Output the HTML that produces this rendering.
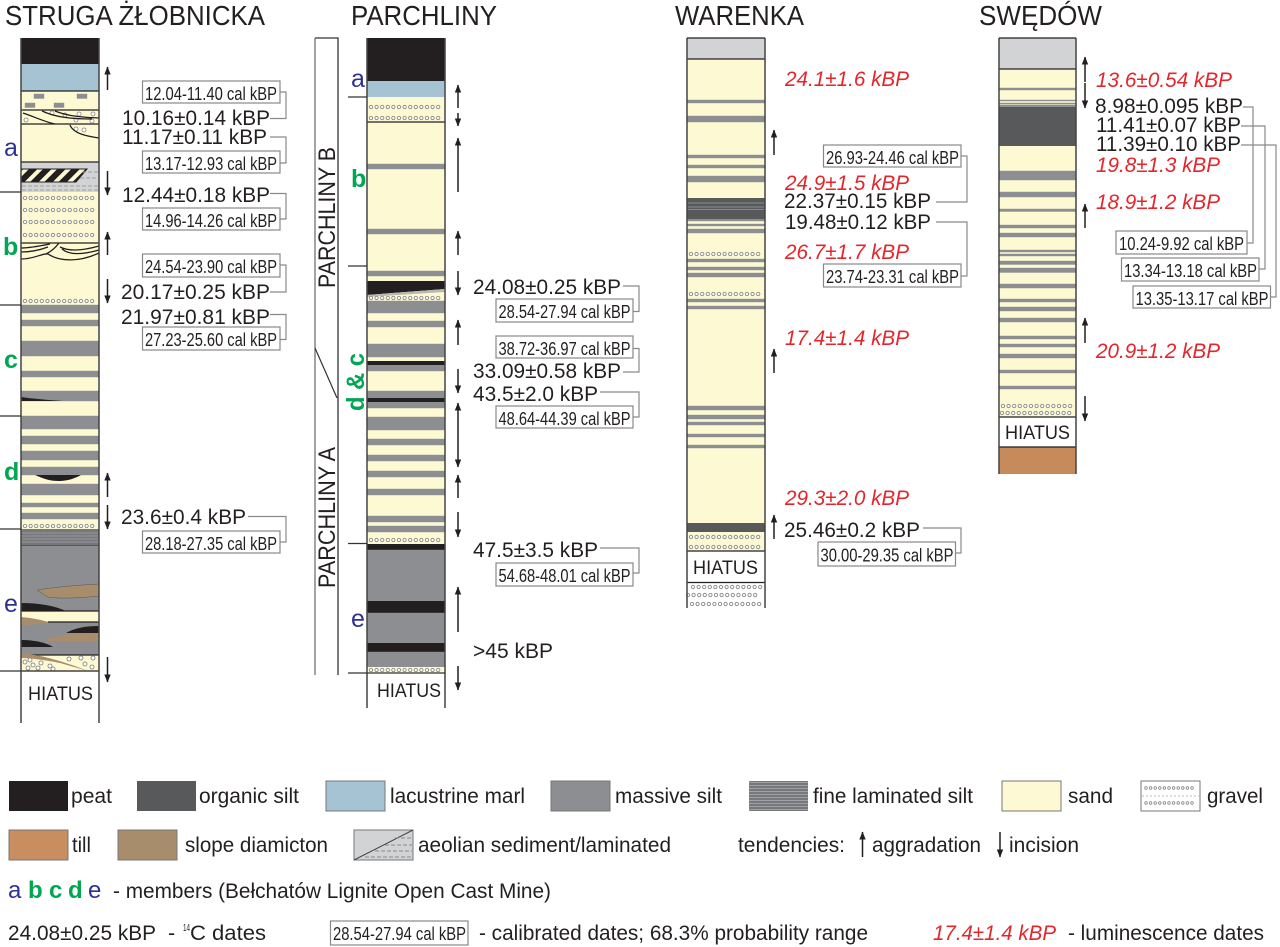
<!DOCTYPE html>
<html lang="en"><head><meta charset="utf-8"><title>Lithostratigraphic profiles</title>
<style>
html,body{margin:0;padding:0;background:#fff}
svg{display:block}
text{font-family:"Liberation Sans",sans-serif;fill:#231f20}
.n{font-size:21.5px}.c{font-size:18.5px}.t{font-size:28px}.l{font-size:21.5px}.h{font-size:19px}
.r{font-size:21.5px;font-style:italic;fill:#e3262c}
.mb{font-size:25px;fill:#2e3192}.mg{font-size:25px;fill:#00a651;font-weight:bold}
.s{fill:#fdfad3}.m{fill:#8d8e92;stroke:#8d8e92;stroke-width:.4}.p{fill:#231f20}.o{fill:#58595b}.d{fill:#a88d6d}
.bx{fill:#fff;stroke:#888;stroke-width:1.2}
.cn{fill:none;stroke:#8a8a8a;stroke-width:1.2}
.ar{stroke:#231f20;stroke-width:1.5;marker-end:url(#ah)}
.tk{stroke:#333;stroke-width:1.2}
.cl{stroke:#444;stroke-width:1.5}
.g1{stroke:#8a8a8a;stroke-width:4.2;stroke-linecap:round;stroke-dasharray:0 5.6}
.g2{stroke:#fff;stroke-width:2.4;stroke-linecap:round;stroke-dasharray:0 5.6}
.bl{stroke:#231f20;stroke-width:1.3;fill:none}
.lg{stroke:#777;stroke-width:1}
</style></head>
<body>
<svg xmlns="http://www.w3.org/2000/svg" width="1280" height="947" viewBox="0 0 1280 947">
<defs>
<marker id="ah" markerUnits="userSpaceOnUse" markerWidth="8" markerHeight="8" refX="7.5" refY="3.2" orient="auto"><path d="M0 0L8 3.2L0 6.4Z" fill="#231f20"/></marker>
<g id="gv"><line x1="0" x2="70" class="g1"/><line x1="0" x2="70" class="g2"/></g>
<g id="gs"><line x1="0" x2="50" class="g1" style="stroke-width:3.4;stroke-dasharray:0 4.6"/><line x1="0" x2="50" class="g2" style="stroke-width:1.8;stroke-dasharray:0 4.6"/></g>
<pattern id="ht" patternUnits="userSpaceOnUse" width="10" height="10" patternTransform="rotate(45)"><rect width="10" height="10" fill="#fdfad3"/><rect width="6" height="10" fill="#231f20"/></pattern>
<pattern id="lm" patternUnits="userSpaceOnUse" width="4" height="3"><rect width="4" height="3" fill="#77787b"/><rect y="2" width="4" height="1" fill="#a0a1a4"/></pattern>
</defs>

<!-- Titles -->
<text class="t" x="5" y="25" textLength="260" lengthAdjust="spacingAndGlyphs">STRUGA ŻŁOBNICKA</text>
<text class="t" x="351" y="25" textLength="146" lengthAdjust="spacingAndGlyphs">PARCHLINY</text>
<text class="t" x="675" y="25" textLength="129" lengthAdjust="spacingAndGlyphs">WARENKA</text>
<text class="t" x="979" y="25" textLength="123" lengthAdjust="spacingAndGlyphs">SWĘDÓW</text>

<!-- COLUMN 1 -->
<g>
<rect x="21" y="38" width="78" height="26" class="p"/>
<rect x="21" y="64" width="78" height="27" fill="#a5c3d3"/>
<rect x="21" y="91" width="78" height="71" class="s"/>
<g class="m"><rect x="34" y="94" width="10" height="4.5"/><rect x="77" y="94" width="10" height="4.5"/><rect x="25" y="103" width="10" height="4.5"/><rect x="54" y="103" width="10" height="4.5"/></g>
<line x1="21" x2="99" y1="91" y2="91" class="bl"/>
<line x1="21" x2="99" y1="110" y2="110" class="bl"/>
<line x1="21" x2="99" y1="124" y2="124" class="bl"/>
<g fill="#fff" stroke="#888" stroke-width=".8"><circle cx="52" cy="113" r="2"/><circle cx="65" cy="115" r="2"/><circle cx="79" cy="114" r="2"/><circle cx="93" cy="114" r="2"/><circle cx="26" cy="120" r="2"/><circle cx="76" cy="120" r="2"/><circle cx="92" cy="121" r="2"/><circle cx="76" cy="129" r="2"/><circle cx="84" cy="130" r="2"/></g>
<path d="M23 113C35 117 45 122 55 124M42 111C55 117 70 119 92 119M55 111C65 115 75 117 99 118" class="bl"/>
<path d="M70 125C73 133 85 136 99 138" class="bl" stroke-width="1.6"/>
<rect x="21" y="162" width="78" height="30" fill="#d1d3d4"/>
<line x1="21" x2="99" y1="162" y2="162" class="bl"/>
<path d="M21 169H87L76 182H21Z" fill="url(#ht)" stroke="#231f20"/>
<path d="M82 172H98M80 178H98M22 186H98M22 190H98" stroke="#a0a0a0" stroke-dasharray="4 2" fill="none"/>
<rect x="21" y="192" width="78" height="113" class="s"/>
<use href="#gv" x="25" y="198"/><use href="#gv" x="25" y="210"/><use href="#gv" x="25" y="222"/><use href="#gv" x="25" y="235"/>
<line x1="21" x2="99" y1="243" y2="243" class="bl"/>
<path d="M21 248C30 248 40 246 50 244M21 252C32 252 40 250 48 247M60 247C70 252 85 250 99 246M62 249C70 256 85 254 99 250" class="bl" stroke-width="1"/>
<path d="M21 259C35 259 42 253 48 254C60 262 80 262 99 253M46 254C52 251 56 247 59 243" class="bl" stroke-width="1.8"/>
<use href="#gv" x="25" y="301"/>
<rect x="21" y="305" width="78" height="111" class="s"/>
<g class="m"><rect x="21" y="305" width="78" height="8"/><rect x="21" y="320" width="78" height="6"/><rect x="21" y="341" width="78" height="15"/><rect x="21" y="371" width="78" height="6"/><rect x="21" y="391" width="78" height="10"/></g>
<path d="M21 397C35 399 50 400 63 401H21Z" class="p"/>
<rect x="21" y="416" width="78" height="113" class="s"/>
<g class="m"><rect x="21" y="416" width="78" height="13"/><rect x="21" y="436" width="78" height="8"/><rect x="21" y="451" width="78" height="9"/><rect x="21" y="467" width="78" height="8"/><rect x="21" y="484" width="78" height="11"/><rect x="21" y="503" width="78" height="4"/><rect x="21" y="513" width="78" height="6"/></g>
<path d="M35 475H81C72 480 65 481 58 481C50 481 44 479 35 475Z" class="p"/>
<use href="#gv" x="25" y="526"/>
<rect x="21" y="529" width="78" height="17" fill="#77787b"/>
<path d="M21 533H99M21 536H99M21 539H99M21 542H99" stroke="#a0a1a4" stroke-width=".8" fill="none"/>
<line x1="21" x2="99" y1="546" y2="546" class="bl"/>
<rect x="21" y="546" width="78" height="65" class="m"/>
<path d="M37 590C55 587 80 585 99 584V596C80 598 60 599 48 597Z" class="d" stroke="#555" stroke-width=".5"/>
<path d="M21 603C40 603 55 606 66 611H21Z" class="p"/>
<rect x="21" y="611" width="78" height="11" class="s"/>
<line x1="21" x2="99" y1="611" y2="611" class="bl" stroke-width=".8"/>
<rect x="21" y="622" width="78" height="33" class="m"/>
<line x1="48" x2="99" y1="622" y2="622" class="bl"/>
<path d="M21 617C32 618 42 620 48 622C42 624 30 625 21 625Z" class="d"/>
<path d="M66 633C75 628 85 626 99 626V633Z" class="p"/>
<path d="M45 640C55 635 75 633 99 633V641H50Z" class="d"/>
<path d="M21 640C35 640 47 643 53 647H21Z" class="p"/>
<rect x="21" y="655" width="78" height="16" class="s"/>
<line x1="21" x2="99" y1="655" y2="655" class="bl" stroke-width=".8"/>
<g fill="#fff" stroke="#777" stroke-width=".8"><circle cx="25" cy="662" r="2"/><circle cx="30" cy="660" r="2"/><circle cx="33" cy="665" r="2"/><circle cx="41" cy="663" r="2"/><circle cx="28" cy="668" r="2"/><circle cx="38" cy="668" r="2"/><circle cx="50" cy="666" r="2"/><circle cx="53" cy="669" r="2"/><circle cx="69" cy="659" r="2"/><circle cx="81" cy="658" r="2"/><circle cx="93" cy="658" r="2"/><circle cx="85" cy="664" r="2"/><circle cx="92" cy="667" r="2"/></g>
<path d="M21 653C40 655 60 660 88 671L60 663C45 660 30 658 21 658Z" class="d"/>
<line x1="21" x2="99" y1="671" y2="671" class="bl"/>
<line x1="21" x2="21" y1="38" y2="723" class="cl"/><line x1="99" x2="99" y1="38" y2="723" class="cl"/>
<line x1="0" x2="21" y1="192" y2="192" class="tk"/><line x1="0" x2="21" y1="305" y2="305" class="tk"/><line x1="0" x2="21" y1="416" y2="416" class="tk"/><line x1="0" x2="21" y1="529" y2="529" class="tk"/><line x1="0" x2="21" y1="671" y2="671" class="tk"/>
<text class="h" x="28" y="700" textLength="65" lengthAdjust="spacingAndGlyphs">HIATUS</text>
<line x1="107.500" x2="107.500" y1="90" y2="67" class="ar"/>
<line x1="107.500" x2="107.500" y1="171" y2="195" class="ar"/>
<line x1="107.500" x2="107.500" y1="255" y2="232" class="ar"/>
<line x1="107.500" x2="107.500" y1="279" y2="303" class="ar"/>
<line x1="107.500" x2="107.500" y1="497" y2="473" class="ar"/>
<line x1="107.500" x2="107.500" y1="505" y2="529" class="ar"/>
<line x1="107.500" x2="107.500" y1="657" y2="682" class="ar"/>
<text class="mb" x="4" y="156">a</text><text class="mg" x="3" y="255">b</text><text class="mg" x="4" y="368">c</text><text class="mg" x="4" y="480">d</text><text class="mb" x="4" y="612">e</text>
<!-- dates 1 -->
<path class="cn" d="M280 92H286V118.500H270"/><path class="cn" d="M270 137H286V163H280"/><path class="cn" d="M270 193.500H286V219H280"/><path class="cn" d="M280 265H286V292H270"/><path class="cn" d="M270 314.500H286V339.500H280"/><path class="cn" d="M248 516.500H286V542H280"/>
<rect class="bx" x="142.500" y="81" width="137.500" height="22"/><text class="c" x="145" y="100" textLength="132" lengthAdjust="spacingAndGlyphs">12.04-11.40 cal kBP</text>
<rect class="bx" x="142.500" y="151" width="137.500" height="22"/><text class="c" x="145" y="170" textLength="132" lengthAdjust="spacingAndGlyphs">13.17-12.93 cal kBP</text>
<rect class="bx" x="142.500" y="208" width="137.500" height="22"/><text class="c" x="145" y="227" textLength="132" lengthAdjust="spacingAndGlyphs">14.96-14.26 cal kBP</text>
<rect class="bx" x="142.500" y="254" width="137.500" height="23"/><text class="c" x="145" y="273" textLength="132" lengthAdjust="spacingAndGlyphs">24.54-23.90 cal kBP</text>
<rect class="bx" x="142.500" y="327" width="137.500" height="23"/><text class="c" x="145" y="346" textLength="132" lengthAdjust="spacingAndGlyphs">27.23-25.60 cal kBP</text>
<rect class="bx" x="142.500" y="531" width="137.500" height="22"/><text class="c" x="145" y="550" textLength="132" lengthAdjust="spacingAndGlyphs">28.18-27.35 cal kBP</text>
<text class="n" x="122" y="125" textLength="148" lengthAdjust="spacingAndGlyphs">10.16±0.14 kBP</text>
<text class="n" x="122" y="144" textLength="145" lengthAdjust="spacingAndGlyphs">11.17±0.11 kBP</text>
<text class="n" x="122" y="202" textLength="148" lengthAdjust="spacingAndGlyphs">12.44±0.18 kBP</text>
<text class="n" x="121" y="299" textLength="149" lengthAdjust="spacingAndGlyphs">20.17±0.25 kBP</text>
<text class="n" x="121" y="324" textLength="149" lengthAdjust="spacingAndGlyphs">21.97±0.81 kBP</text>
<text class="n" x="121" y="524" textLength="125" lengthAdjust="spacingAndGlyphs">23.6±0.4 kBP</text>
</g>

<!-- COLUMN 2 -->
<g>
<rect x="315" y="38" width="23" height="637" fill="#fff"/>
<path d="M315 38H338V675" fill="none" stroke="#333" stroke-width="1.3"/><line x1="315" x2="315" y1="38" y2="675" stroke="#666" stroke-width="1.2"/>
<line x1="315" y1="348" x2="337" y2="398" stroke="#333" stroke-width="1.2"/>
<text x="0" y="0" transform="translate(335,288) rotate(-90)" style="font-size:24px" textLength="141" lengthAdjust="spacingAndGlyphs">PARCHLINY  B</text>
<text x="0" y="0" transform="translate(335,588) rotate(-90)" style="font-size:24px" textLength="141" lengthAdjust="spacingAndGlyphs">PARCHLINY  A</text>
<rect x="367" y="38" width="78" height="43" class="p"/>
<rect x="367" y="81" width="78" height="16" fill="#a5c3d3"/>
<rect x="367" y="97" width="78" height="447" class="s"/>
<use href="#gv" x="371" y="107"/><use href="#gv" x="371" y="118"/>
<line x1="367" x2="445" y1="122" y2="122" class="bl"/>
<g class="m">
<rect x="367" y="164" width="78" height="5"/><rect x="367" y="229" width="78" height="5"/><rect x="367" y="271" width="78" height="5"/>
<rect x="367" y="301" width="78" height="12"/><rect x="367" y="321" width="78" height="6"/><rect x="367" y="344" width="78" height="13"/>
<rect x="367" y="365" width="78" height="6"/><rect x="367" y="391" width="78" height="7"/><rect x="367" y="402" width="78" height="6"/>
<rect x="367" y="417" width="78" height="13"/><rect x="367" y="439" width="78" height="6"/><rect x="367" y="455" width="78" height="6"/>
<rect x="367" y="471" width="78" height="6"/><rect x="367" y="489" width="78" height="6"/><rect x="367" y="516" width="78" height="6"/><rect x="367" y="526" width="78" height="6"/>
</g>
<path d="M367 281H445V289L367 295Z" class="p"/>
<path d="M367 295L445 289V292L367 297Z" fill="#b9b9b0"/>
<use href="#gv" x="371" y="298"/>
<rect x="367" y="361" width="78" height="4" class="p"/><rect x="367" y="398" width="78" height="4" class="p"/>
<use href="#gv" x="371" y="540"/>
<rect x="367" y="544" width="78" height="6" class="p"/>
<rect x="367" y="550" width="78" height="51" class="m"/>
<rect x="367" y="601" width="78" height="12" class="p"/>
<rect x="367" y="613" width="78" height="30" class="m"/>
<rect x="367" y="643" width="78" height="9" class="p"/>
<rect x="367" y="652" width="78" height="15" class="m"/>
<rect x="367" y="667" width="78" height="6" class="s"/>
<use href="#gv" x="371" y="670"/>
<line x1="367" x2="367" y1="38" y2="708" class="cl"/><line x1="445" x2="445" y1="38" y2="708" class="cl"/>
<line x1="348" x2="367" y1="97" y2="97" class="tk"/><line x1="348" x2="367" y1="266" y2="266" class="tk"/><line x1="348" x2="367" y1="543.500" y2="543.500" class="tk"/><line x1="348" x2="445" y1="673" y2="673" class="tk"/>
<text class="h" x="377" y="697" textLength="64" lengthAdjust="spacingAndGlyphs">HIATUS</text>
<line x1="458" x2="458" y1="108" y2="85" class="ar"/>
<line x1="458" x2="458" y1="113" y2="126" class="ar"/>
<line x1="458" x2="458" y1="192" y2="138" class="ar"/>
<line x1="458" x2="458" y1="255" y2="231" class="ar"/>
<line x1="458" x2="458" y1="271" y2="295" class="ar"/>
<line x1="458" x2="458" y1="345" y2="320" class="ar"/>
<line x1="458" x2="458" y1="369" y2="393" class="ar"/>
<line x1="458" x2="458" y1="455" y2="403" class="ar"/>
<line x1="458" x2="458" y1="455" y2="467" class="ar"/>
<line x1="458" x2="458" y1="498" y2="475" class="ar"/>
<line x1="458" x2="458" y1="512" y2="537" class="ar"/>
<line x1="458" x2="458" y1="632" y2="587" class="ar"/>
<line x1="458" x2="458" y1="666" y2="690" class="ar"/>
<text class="mb" x="351" y="87">a</text><text class="mg" x="351" y="187">b</text><text class="mb" x="351" y="627">e</text>
<text class="mg" x="0" y="0" transform="translate(364,411) rotate(-90)" textLength="58" lengthAdjust="spacingAndGlyphs">d &amp; c</text>
<path class="cn" d="M623 286H639V311.500H633"/><path class="cn" d="M633 348.500H639V372H623"/><path class="cn" d="M600 392H639V417H633"/><path class="cn" d="M600 548H639V573H633"/>
<rect class="bx" x="496" y="299" width="137" height="23"/><text class="c" x="498.500" y="318" textLength="132" lengthAdjust="spacingAndGlyphs">28.54-27.94 cal kBP</text>
<rect class="bx" x="496" y="336" width="137" height="22"/><text class="c" x="498.500" y="355" textLength="132" lengthAdjust="spacingAndGlyphs">38.72-36.97 cal kBP</text>
<rect class="bx" x="496" y="406" width="137" height="22"/><text class="c" x="498.500" y="425" textLength="132" lengthAdjust="spacingAndGlyphs">48.64-44.39 cal kBP</text>
<rect class="bx" x="496" y="563" width="137" height="23"/><text class="c" x="498.500" y="582" textLength="132" lengthAdjust="spacingAndGlyphs">54.68-48.01 cal kBP</text>
<text class="n" x="473" y="294" textLength="148" lengthAdjust="spacingAndGlyphs">24.08±0.25 kBP</text>
<text class="n" x="473" y="378" textLength="148" lengthAdjust="spacingAndGlyphs">33.09±0.58 kBP</text>
<text class="n" x="473" y="401" textLength="125" lengthAdjust="spacingAndGlyphs">43.5±2.0 kBP</text>
<text class="n" x="473" y="557" textLength="125" lengthAdjust="spacingAndGlyphs">47.5±3.5 kBP</text>
<text class="n" x="473" y="658" textLength="80" lengthAdjust="spacingAndGlyphs">&gt;45 kBP</text>
</g>

<!-- COLUMN 3 -->
<g>
<rect x="687" y="38" width="78" height="21" fill="#d1d3d4"/>
<rect x="687" y="59" width="78" height="492" class="s"/>
<line x1="687" x2="765" y1="59" y2="59" class="bl"/>
<g class="m">
<rect x="687" y="100" width="78" height="3"/><rect x="687" y="116" width="78" height="6"/><rect x="687" y="155" width="78" height="3"/><rect x="687" y="165" width="78" height="3"/><rect x="687" y="176" width="78" height="6"/>
<rect x="687" y="219" width="78" height="2"/><rect x="687" y="224" width="78" height="2"/><rect x="687" y="229" width="78" height="4"/>
<rect x="687" y="259" width="78" height="3"/><rect x="687" y="267" width="78" height="3"/><rect x="687" y="273" width="78" height="4"/>
<rect x="687" y="299" width="78" height="3"/><rect x="687" y="306" width="78" height="3"/>
<rect x="687" y="406" width="78" height="4"/><rect x="687" y="415" width="78" height="4"/><rect x="687" y="422" width="78" height="3"/><rect x="687" y="434" width="78" height="3"/><rect x="687" y="445" width="78" height="3"/>
</g>
<rect x="687" y="198" width="78" height="21" class="o"/>
<path d="M687 203H765M687 207H765M687 209.500H765" stroke="#9a9a9c" stroke-width=".7" fill="none"/>
<use href="#gv" x="691" y="254"/><use href="#gv" x="691" y="294"/>
<rect x="687" y="523" width="78" height="9" class="o"/>
<use href="#gv" x="691" y="537"/><use href="#gv" x="691" y="547"/>
<line x1="687" x2="765" y1="551" y2="551" class="bl" stroke-width=".8"/>
<line x1="687" x2="765" y1="582.500" y2="582.500" class="bl"/>
<use href="#gv" x="693" y="587"/><use href="#gv" x="688" y="595"/><use href="#gv" x="692" y="604"/>
<line x1="687" x2="687" y1="38" y2="608" class="cl"/><line x1="765" x2="765" y1="38" y2="608" class="cl"/>
<line x1="687" x2="765" y1="38" y2="38" class="bl"/>
<text class="h" x="693" y="574" textLength="65" lengthAdjust="spacingAndGlyphs">HIATUS</text>
<line x1="774" x2="774" y1="155" y2="130" class="ar"/>
<line x1="774" x2="774" y1="373" y2="349" class="ar"/>
<line x1="774" x2="774" y1="539" y2="515" class="ar"/>
<path class="cn" d="M961 156H967V202H936"/><path class="cn" d="M936 222H967V276H961"/><path class="cn" d="M923 528H961V553H955"/>
<rect class="bx" x="823.500" y="145" width="137.500" height="22"/><text class="c" x="826" y="164" textLength="133" lengthAdjust="spacingAndGlyphs">26.93-24.46 cal kBP</text>
<rect class="bx" x="823.500" y="264" width="137.500" height="23"/><text class="c" x="826" y="283" textLength="133" lengthAdjust="spacingAndGlyphs">23.74-23.31 cal kBP</text>
<rect class="bx" x="818" y="542" width="137.500" height="24"/><text class="c" x="820.500" y="561.500" textLength="133" lengthAdjust="spacingAndGlyphs">30.00-29.35 cal kBP</text>
<text class="r" x="785" y="86" textLength="124" lengthAdjust="spacingAndGlyphs">24.1±1.6 kBP</text>
<text class="r" x="785" y="190" textLength="124" lengthAdjust="spacingAndGlyphs">24.9±1.5 kBP</text>
<text class="n" x="784" y="208" textLength="147" lengthAdjust="spacingAndGlyphs">22.37±0.15 kBP</text>
<text class="n" x="785" y="229" textLength="146" lengthAdjust="spacingAndGlyphs">19.48±0.12 kBP</text>
<text class="r" x="785" y="259" textLength="124" lengthAdjust="spacingAndGlyphs">26.7±1.7 kBP</text>
<text class="r" x="785" y="345" textLength="124" lengthAdjust="spacingAndGlyphs">17.4±1.4 kBP</text>
<text class="r" x="785" y="505" textLength="124" lengthAdjust="spacingAndGlyphs">29.3±2.0 kBP</text>
<text class="n" x="784" y="537" textLength="136" lengthAdjust="spacingAndGlyphs">25.46±0.2 kBP</text>
</g>

<!-- COLUMN 4 -->
<g>
<rect x="999" y="38" width="77" height="31" fill="#d1d3d4"/>
<rect x="999" y="69" width="77" height="348" class="s"/>
<line x1="999" x2="1076" y1="69" y2="69" class="bl"/>
<g class="m">
<rect x="999" y="88" width="77" height="2"/><rect x="999" y="100" width="77" height="1"/><rect x="999" y="103" width="77" height="1"/><rect x="999" y="105" width="77" height="2"/>
<rect x="999" y="171" width="77" height="9"/><rect x="999" y="192" width="77" height="5"/><rect x="999" y="209" width="77" height="2.500"/>
<rect x="999" y="225" width="77" height="3"/><rect x="999" y="233" width="77" height="4"/><rect x="999" y="250" width="77" height="2"/><rect x="999" y="254" width="77" height="2"/>
<rect x="999" y="261" width="77" height="3.500"/><rect x="999" y="268" width="77" height="4.500"/><rect x="999" y="284" width="77" height="4"/>
<rect x="999" y="299" width="77" height="3"/><rect x="999" y="307" width="77" height="4"/><rect x="999" y="318" width="77" height="4"/>
<rect x="999" y="336" width="77" height="3"/><rect x="999" y="344" width="77" height="3"/><rect x="999" y="354" width="77" height="4"/>
<rect x="999" y="370" width="77" height="3"/><rect x="999" y="386" width="77" height="3"/>
</g>
<rect x="999" y="107" width="77" height="39" class="o"/>
<use href="#gv" x="1003" y="406"/><use href="#gv" x="1002" y="413"/>
<line x1="999" x2="1076" y1="417" y2="417" class="bl"/>
<rect x="999" y="447" width="77" height="27" fill="#c68a5b"/>
<line x1="999" x2="1076" y1="447" y2="447" class="bl"/>
<line x1="999" x2="999" y1="38" y2="474" class="cl"/><line x1="1076" x2="1076" y1="38" y2="474" class="cl"/>
<line x1="999" x2="1076" y1="38" y2="38" class="bl"/>
<text class="h" x="1005" y="439" textLength="65" lengthAdjust="spacingAndGlyphs">HIATUS</text>
<line x1="1085" x2="1085" y1="82" y2="57" class="ar"/>
<line x1="1085" x2="1085" y1="83" y2="108" class="ar"/>
<line x1="1085" x2="1085" y1="228" y2="204" class="ar"/>
<line x1="1085" x2="1085" y1="343" y2="318" class="ar"/>
<line x1="1085" x2="1085" y1="396" y2="421" class="ar"/>
<path class="cn" d="M1243 107H1253V243H1247"/><path class="cn" d="M1241 126H1265V269H1259"/><path class="cn" d="M1241 145H1276V297H1270"/>
<rect class="bx" x="1116" y="231" width="131" height="23"/><text class="c" x="1119" y="250" textLength="125" lengthAdjust="spacingAndGlyphs">10.24-9.92 cal kBP</text>
<rect class="bx" x="1121.500" y="258" width="137.500" height="23"/><text class="c" x="1124" y="277" textLength="133" lengthAdjust="spacingAndGlyphs">13.34-13.18 cal kBP</text>
<rect class="bx" x="1133" y="286" width="137.500" height="22"/><text class="c" x="1135.500" y="305" textLength="133" lengthAdjust="spacingAndGlyphs">13.35-13.17 cal kBP</text>
<text class="r" x="1096" y="87" textLength="136" lengthAdjust="spacingAndGlyphs">13.6±0.54 kBP</text>
<text class="n" x="1095" y="113" textLength="148" lengthAdjust="spacingAndGlyphs">8.98±0.095 kBP</text>
<text class="n" x="1096" y="132" textLength="145" lengthAdjust="spacingAndGlyphs">11.41±0.07 kBP</text>
<text class="n" x="1096" y="151" textLength="145" lengthAdjust="spacingAndGlyphs">11.39±0.10 kBP</text>
<text class="r" x="1096" y="172" textLength="124" lengthAdjust="spacingAndGlyphs">19.8±1.3 kBP</text>
<text class="r" x="1096" y="209" textLength="124" lengthAdjust="spacingAndGlyphs">18.9±1.2 kBP</text>
<text class="r" x="1096" y="358" textLength="124" lengthAdjust="spacingAndGlyphs">20.9±1.2 kBP</text>
</g>

<!-- LEGEND -->
<g>
<rect x="9" y="781" width="59" height="30" fill="#231f20"/>
<text class="l" x="71" y="803" textLength="41" lengthAdjust="spacingAndGlyphs">peat</text>
<rect x="137" y="781" width="59" height="30" fill="#58595b"/>
<text class="l" x="199" y="803" textLength="100" lengthAdjust="spacingAndGlyphs">organic silt</text>
<rect x="326" y="781" width="59" height="30" fill="#a5c3d3" class="lg"/>
<text class="l" x="390" y="803" textLength="135" lengthAdjust="spacingAndGlyphs">lacustrine marl</text>
<rect x="551" y="781" width="59" height="30" fill="#8d8e92" class="lg"/>
<text class="l" x="615" y="803" textLength="107" lengthAdjust="spacingAndGlyphs">massive silt</text>
<rect x="749" y="781" width="59" height="30" fill="url(#lm)"/>
<text class="l" x="813" y="803" textLength="160" lengthAdjust="spacingAndGlyphs">fine laminated silt</text>
<rect x="1002" y="781" width="59" height="30" fill="#fdfad3" class="lg"/>
<text class="l" x="1068" y="803" textLength="45" lengthAdjust="spacingAndGlyphs">sand</text>
<rect x="1141" y="781" width="59" height="30" fill="#fff" class="lg"/>
<line x1="1146" x2="1196" y1="788" y2="788" class="g1" style="stroke-width:3.400;stroke-dasharray:0 4.600"/><line x1="1146" x2="1196" y1="788" y2="788" class="g2" style="stroke-width:1.800;stroke-dasharray:0 4.600"/>
<line x1="1146" x2="1196" y1="803" y2="803" class="g1" style="stroke-width:3.400;stroke-dasharray:0 4.600"/><line x1="1146" x2="1196" y1="803" y2="803" class="g2" style="stroke-width:1.800;stroke-dasharray:0 4.600"/>
<line x1="1142" x2="1199" y1="796" y2="796" stroke="#bbb" stroke-dasharray="2 2"/>
<text class="l" x="1207" y="803" textLength="56" lengthAdjust="spacingAndGlyphs">gravel</text>

<rect x="9" y="830" width="59" height="30" fill="#c98e60" class="lg"/>
<text class="l" x="72" y="852" textLength="19" lengthAdjust="spacingAndGlyphs">till</text>
<rect x="118" y="830" width="59" height="30" fill="#a88d6d" class="lg"/>
<text class="l" x="185" y="852" textLength="143" lengthAdjust="spacingAndGlyphs">slope diamicton</text>
<rect x="354" y="830" width="59" height="30" fill="#d1d3d4" class="lg"/>
<line x1="354" y1="860" x2="413" y2="830" stroke="#444"/>
<path d="M395 838H412M385 845H412M375 851H412M365 857H412" stroke="#8a8a8a" stroke-dasharray="4 2" fill="none"/>
<text class="l" x="418" y="852" textLength="253" lengthAdjust="spacingAndGlyphs">aeolian sediment/laminated</text>
<text class="l" x="738" y="852" textLength="107" lengthAdjust="spacingAndGlyphs">tendencies:</text>
<line x1="862.500" x2="862.500" y1="857" y2="832" class="ar"/>
<text class="l" x="872" y="852" textLength="109" lengthAdjust="spacingAndGlyphs">aggradation</text>
<line x1="1000" x2="1000" y1="832" y2="857" class="ar"/>
<text class="l" x="1009" y="852" textLength="70" lengthAdjust="spacingAndGlyphs">incision</text>

<text style="font-size:24px;fill:#2e3192" x="8" y="898">a</text>
<text style="font-size:24px;fill:#00a651;font-weight:bold" x="28" y="898">b</text>
<text style="font-size:24px;fill:#00a651;font-weight:bold" x="49" y="898">c</text>
<text style="font-size:24px;fill:#00a651;font-weight:bold" x="68" y="898">d</text>
<text style="font-size:24px;fill:#2e3192" x="88" y="898">e</text>
<text class="l" x="113" y="898" textLength="438" lengthAdjust="spacingAndGlyphs">- members (Bełchatów Lignite Open Cast Mine)</text>

<text class="l" x="8" y="940" textLength="148" lengthAdjust="spacingAndGlyphs">24.08±0.25 kBP</text>
<text class="l" x="168" y="940">-</text>
<text style="font-size:10px" x="183" y="931" textLength="7" lengthAdjust="spacingAndGlyphs">14</text>
<text class="l" x="190" y="940" textLength="76" lengthAdjust="spacingAndGlyphs">C dates</text>
<rect class="bx" x="330.500" y="921" width="137.500" height="24"/>
<text class="c" x="333" y="940" textLength="133" lengthAdjust="spacingAndGlyphs">28.54-27.94 cal kBP</text>
<text class="l" x="479" y="940" textLength="389" lengthAdjust="spacingAndGlyphs">- calibrated dates; 68.3% probability range</text>
<text class="r" x="933" y="940" textLength="123" lengthAdjust="spacingAndGlyphs">17.4±1.4 kBP</text>
<text class="l" x="1068" y="940" textLength="196" lengthAdjust="spacingAndGlyphs">- luminescence dates</text>
</g>
</svg>
</body></html>
